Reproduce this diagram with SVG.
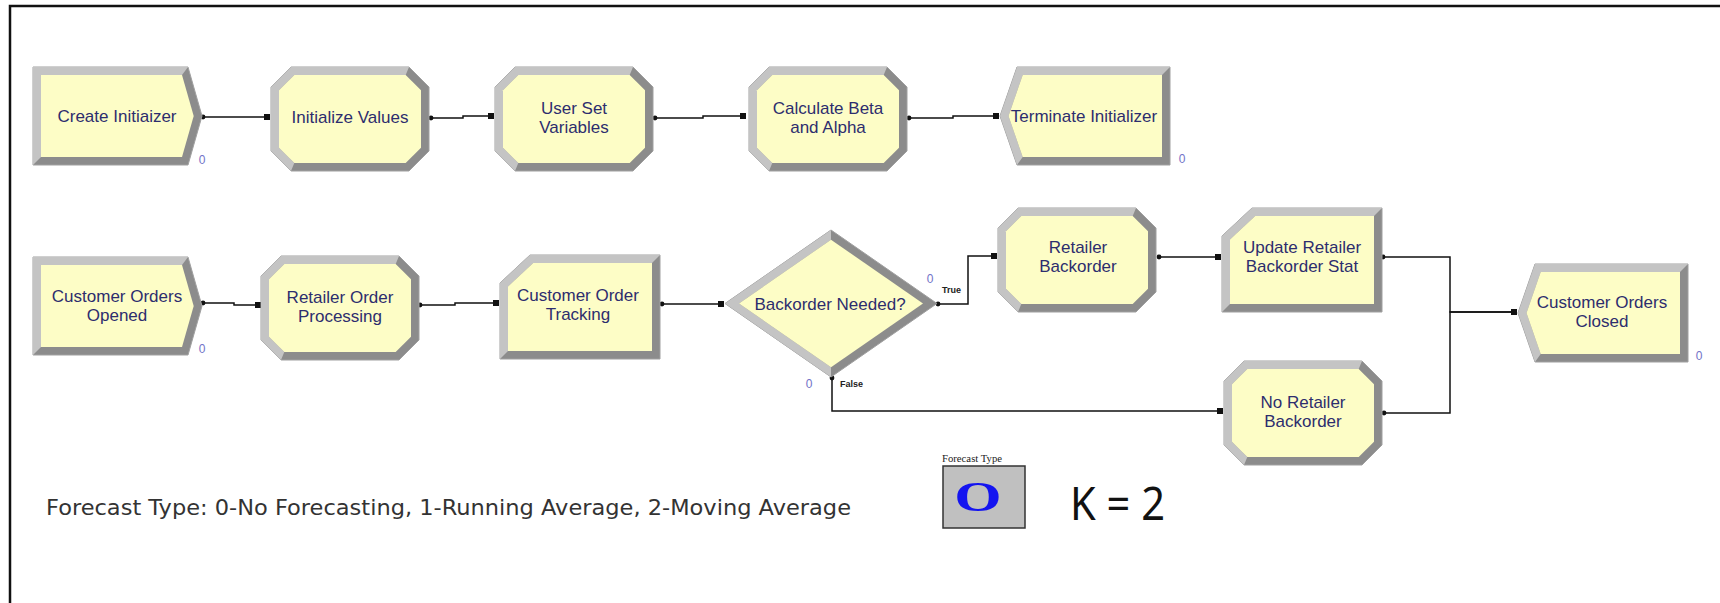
<svg xmlns="http://www.w3.org/2000/svg" width="1720" height="603" viewBox="0 0 1720 603">
  <style>
    .bevel-dark { fill: #8c8c8c; stroke: #a0a0a0; stroke-width: 1; }
    .bevel-light { fill: #c4c4c4; }
    .face { fill: #fdfdc6; }
    .label { font-family: "Liberation Sans", Arial, sans-serif; font-size: 17px; fill: #2d2d6e; text-anchor: middle; }
    .counter { font-family: "Liberation Sans", Arial, sans-serif; font-size: 12px; fill: #7272c8; text-anchor: middle; }
    .branch { font-family: "Liberation Sans", Arial, sans-serif; font-size: 9px; font-weight: bold; fill: #222; }
    .link { fill: none; stroke: #111; stroke-width: 1.5; marker-start: url(#exit); marker-end: url(#entry); }
    .note { font-family: "DejaVu Sans", Tahoma, sans-serif; font-size: 21px; fill: #333; }
  </style>
  <defs>
    <marker id="exit" viewBox="0 0 6 6" refX="3" refY="3" markerWidth="6" markerHeight="6" markerUnits="userSpaceOnUse" orient="auto">
      <circle cx="3" cy="3" r="2.4" fill="#111"/>
    </marker>
    <marker id="entry" viewBox="0 0 6 6" refX="6" refY="3" markerWidth="6" markerHeight="6" markerUnits="userSpaceOnUse" orient="auto">
      <rect x="0" y="0" width="6" height="6" fill="#111"/>
    </marker>

    <!-- Create module: box with an arrow point on the right -->
    <g id="shape-create">
      <polygon class="bevel-dark" points="0,0 155,0 169,49 155,98 0,98"/>
      <polygon class="bevel-light" points="0,98 0,0 155,0 149,8 8,8 8,90"/>
      <polygon class="face" points="8,8 149,8 160.7,49 149,90 8,90"/>
    </g>

    <!-- Process module: octagon -->
    <g id="shape-process">
      <polygon class="bevel-dark" points="20,0 138,0 158,20 158,84 138,104 20,104 0,84 0,20"/>
      <polygon class="bevel-light" points="20,104 0,84 0,20 20,0 138,0 134.7,8 23.3,8 8,23.3 8,80.7 23.3,96"/>
      <polygon class="face" points="23.3,8 134.7,8 150,23.3 150,80.7 134.7,96 23.3,96 8,80.7 8,23.3"/>
    </g>

    <!-- Assign module: box with the top-left corner cut -->
    <g id="shape-assign">
      <polygon class="bevel-dark" points="30,0 160,0 160,104 0,104 0,28"/>
      <polygon class="bevel-light" points="0,104 0,28 30,0 160,0 152,8 33.2,8 8,31.5 8,96"/>
      <polygon class="face" points="33.2,8 152,8 152,96 8,96 8,31.5"/>
    </g>

    <!-- Dispose module: box with an arrow point on the left -->
    <g id="shape-dispose">
      <polygon class="bevel-dark" points="17,0 170,0 170,98 17,98 0,49"/>
      <polygon class="bevel-light" points="17,98 0,49 17,0 170,0 162,8 22.7,8 8.5,49 22.7,90"/>
      <polygon class="face" points="22.7,8 162,8 162,90 22.7,90 8.5,49"/>
    </g>

    <!-- Decide module: diamond -->
    <g id="shape-decide">
      <polygon class="bevel-dark" points="0,73.5 106,0 212,73.5 106,147"/>
      <polygon class="bevel-light" points="106,147 0,73.5 106,0 106,9.7 14,73.5 106,137.3"/>
      <polygon class="face" points="14,73.5 106,9.7 198,73.5 106,137.3"/>
    </g>
  </defs>

  <rect x="0" y="0" width="1720" height="603" fill="#ffffff"/>
  <!-- frame -->
  <path d="M10,603 V6 H1720" fill="none" stroke="#111" stroke-width="2.5"/>

  <!-- connectors -->
  <g id="connectors">
    <path class="link" d="M203,117 H270"/>
    <path class="link" d="M431,118 H463 V116 H494"/>
    <path class="link" d="M655,118 H703 V116 H746"/>
    <path class="link" d="M909,118 H953 V116 H999"/>
    <path class="link" d="M203,303 H234 V305 H261"/>
    <path class="link" d="M420,305 H455 V303 H499"/>
    <path class="link" d="M662,304 H724"/>
    <path class="link" d="M938,304 H968 V256 H997"/>
    <path class="link" d="M1159,257 H1221"/>
    <path class="link" d="M1383,257 H1450 V312 H1517"/>
    <path class="link" d="M1384,413 H1450 V312 H1517"/>
    <path class="link" d="M832,378 V411 H1223"/>
  </g>

  <!-- initialisation row -->
  <g id="create-initiaizer">
    <use href="#shape-create" transform="translate(33,67)"/>
    <text class="label" x="117" y="122">Create Initiaizer</text>
    <text class="counter" x="202" y="164">0</text>
  </g>
  <g id="initialize-values">
    <use href="#shape-process" transform="translate(271,67)"/>
    <text class="label" x="350" y="123">Initialize Values</text>
  </g>
  <g id="user-set-variables">
    <use href="#shape-process" transform="translate(495,67)"/>
    <text class="label" x="574" y="114">User Set</text>
    <text class="label" x="574" y="133">Variables</text>
  </g>
  <g id="calculate-beta-alpha">
    <use href="#shape-process" transform="translate(749,67)"/>
    <text class="label" x="828" y="114">Calculate Beta</text>
    <text class="label" x="828" y="133">and Alpha</text>
  </g>
  <g id="terminate-initializer">
    <use href="#shape-dispose" transform="translate(1000,67)"/>
    <text class="label" x="1084" y="122">Terminate Initializer</text>
    <text class="counter" x="1182" y="163">0</text>
  </g>

  <!-- order flow row -->
  <g id="customer-orders-opened">
    <use href="#shape-create" transform="translate(33,257)"/>
    <text class="label" x="117" y="302">Customer Orders</text>
    <text class="label" x="117" y="321">Opened</text>
    <text class="counter" x="202" y="353">0</text>
  </g>
  <g id="retailer-order-processing">
    <use href="#shape-process" transform="translate(261,256)"/>
    <text class="label" x="340" y="303">Retailer Order</text>
    <text class="label" x="340" y="322">Processing</text>
  </g>
  <g id="customer-order-tracking">
    <use href="#shape-assign" transform="translate(500,255)"/>
    <text class="label" x="578" y="301">Customer Order</text>
    <text class="label" x="578" y="320">Tracking</text>
  </g>
  <g id="backorder-needed">
    <use href="#shape-decide" transform="translate(725,230)"/>
    <text class="label" x="830" y="310">Backorder Needed?</text>
    <text class="counter" x="930" y="283">0</text>
    <text class="branch" x="942" y="293">True</text>
    <text class="counter" x="809" y="388">0</text>
    <text class="branch" x="840" y="387">False</text>
  </g>
  <g id="retailer-backorder">
    <use href="#shape-process" transform="translate(998,208)"/>
    <text class="label" x="1078" y="253">Retailer</text>
    <text class="label" x="1078" y="272">Backorder</text>
  </g>
  <g id="update-retailer-backorder-stat">
    <use href="#shape-assign" transform="translate(1222,208)"/>
    <text class="label" x="1302" y="253">Update Retailer</text>
    <text class="label" x="1302" y="272">Backorder Stat</text>
  </g>
  <g id="no-retailer-backorder">
    <use href="#shape-process" transform="translate(1224,361)"/>
    <text class="label" x="1303" y="408">No Retailer</text>
    <text class="label" x="1303" y="427">Backorder</text>
  </g>
  <g id="customer-orders-closed">
    <use href="#shape-dispose" transform="translate(1518,264)"/>
    <text class="label" x="1602" y="308">Customer Orders</text>
    <text class="label" x="1602" y="327">Closed</text>
    <text class="counter" x="1699" y="360">0</text>
  </g>

  <!-- notes and variable display -->
  <text class="note" x="46" y="515" textLength="805" lengthAdjust="spacingAndGlyphs">Forecast Type: 0-No Forecasting, 1-Running Average, 2-Moving Average</text>
  <g id="forecast-type-display">
    <text x="942" y="462" font-family="'Liberation Serif', 'Times New Roman', serif" font-size="10" fill="#222" textLength="60" lengthAdjust="spacingAndGlyphs">Forecast Type</text>
    <rect x="943" y="466" width="82" height="62" fill="#c0c0c0" stroke="#333" stroke-width="1.5"/>
    <text transform="translate(978,511) scale(1.45,1)" x="0" y="0" font-family="'Liberation Serif', 'Times New Roman', serif" font-size="42" font-weight="bold" fill="#1414f0" text-anchor="middle">O</text>
  </g>
  <text x="1070" y="520" font-family="'Noto Sans', 'Open Sans', sans-serif" font-size="46" fill="#111" textLength="95" lengthAdjust="spacingAndGlyphs">K = 2</text>
</svg>
